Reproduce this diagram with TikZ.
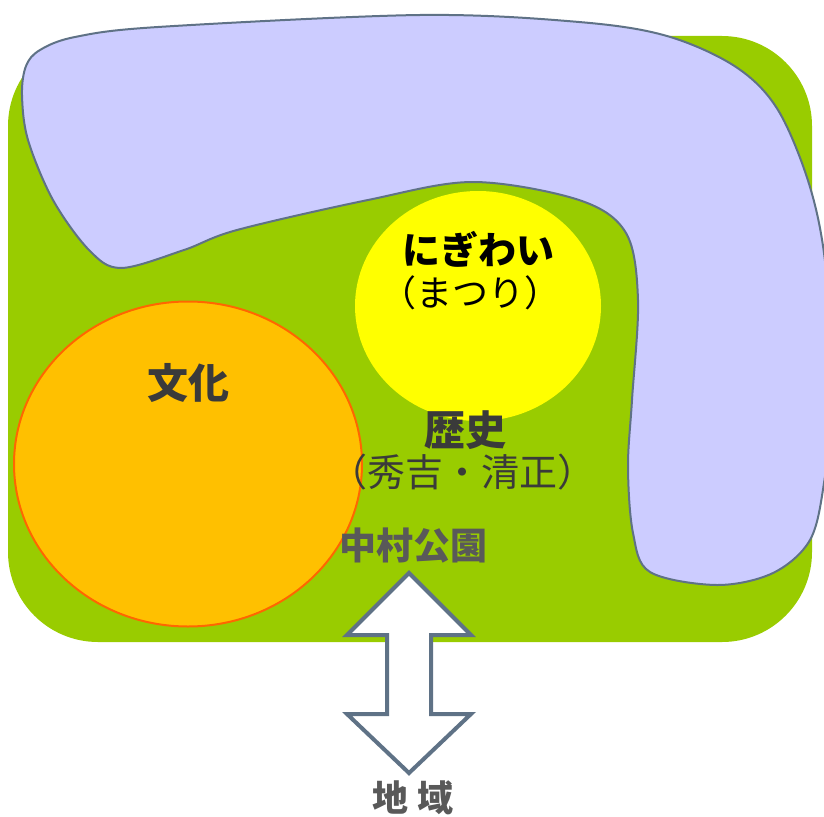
\documentclass[tikz,border=0pt]{standalone}
\usepackage{fontspec}
\usetikzlibrary{shapes.geometric}
\newfontfamily\jp{Noto Sans CJK JP}
\definecolor{grn}{HTML}{99CC00}
\definecolor{lav}{HTML}{CCCCFF}
\definecolor{slate}{HTML}{5F7286}
\definecolor{org}{HTML}{FFC000}
\definecolor{orgline}{HTML}{FF6600}
\definecolor{ylw}{HTML}{FFFF00}
\definecolor{dgray}{HTML}{3A3A3A}
\definecolor{mgray}{HTML}{595959}
\tikzset{
  lbl/.style={font=\jp\fontsize{34}{40}\selectfont, inner sep=0pt, align=center},
  lblb/.style={font=\jp\bfseries\fontsize{34}{40}\selectfont, inner sep=0pt, align=center}
}
\begin{document}
\begin{tikzpicture}[x=1pt,y=-1pt]
\useasboundingbox (0,0) rectangle (824,816);
\clip (0,0) rectangle (824,816);
% green region
\fill[grn, rounded corners=90] (8,36) rectangle (812,642);
% water (lavender)
\draw[fill=lav, draw=slate, line width=2pt] plot[smooth cycle, tension=0.55] coordinates {
 (22,95) (26,66) (40,50) (75,37) (158,27) (420,15) (579,22) (667,36) (736,67) (778,110) (810,187)
 (826,270) (832,400) (824,483) (810,540) (773,573) (717,585) (650,572) (633,533) (628,467)
 (632,400) (638,300) (626,233) (579,200) (473,182) (368,200) (237,230) (184,250) (121,268)
 (89,250) (53,200) (28,140)};
% circles
\node[ellipse, fill=ylw, minimum width=246pt, minimum height=230pt, inner sep=0pt] (nigiwai) at (478,306) {};
\node[ellipse, fill=org, draw=orgline, line width=2pt, minimum width=348pt, minimum height=325pt, inner sep=0pt] (bunka) at (188,464) {};
% labels
\node[lblb, text=black, font=\jp\bfseries\fontsize{38}{44}\selectfont] (t1) at (478,249) {にぎわい};
\node[lbl, text=black, font=\jp\fontsize{36}{42}\selectfont] (t2) at (470,293) {（まつり）};
\node[lblb, text=dgray, font=\jp\bfseries\fontsize{41}{48}\selectfont] (t3) at (188,383) {文化};
\node[lblb, text=dgray, font=\jp\bfseries\fontsize{41}{48}\selectfont] (t4) at (465,430) {歴史};
\node[lbl, text=dgray, font=\jp\fontsize{38}{44}\selectfont] (t5) at (462,472) {（秀吉・清正）};
\node[lblb, text=mgray, font=\jp\bfseries\fontsize{37}{44}\selectfont] (t6) at (413,546) {中村公園};
\node[lblb, text=mgray, font=\jp\bfseries\fontsize{36}{42}\selectfont] (t7) at (413,798) {地\hspace{10pt}域};
% double arrow
\draw[fill=white, draw=slate, line width=4pt, line join=miter]
 (409,573) -- (471,635) -- (431,635) -- (431,714) -- (471,714) -- (409,773)
 -- (347,714) -- (387,714) -- (387,635) -- (347,635) -- cycle;
\end{tikzpicture}
\end{document}
